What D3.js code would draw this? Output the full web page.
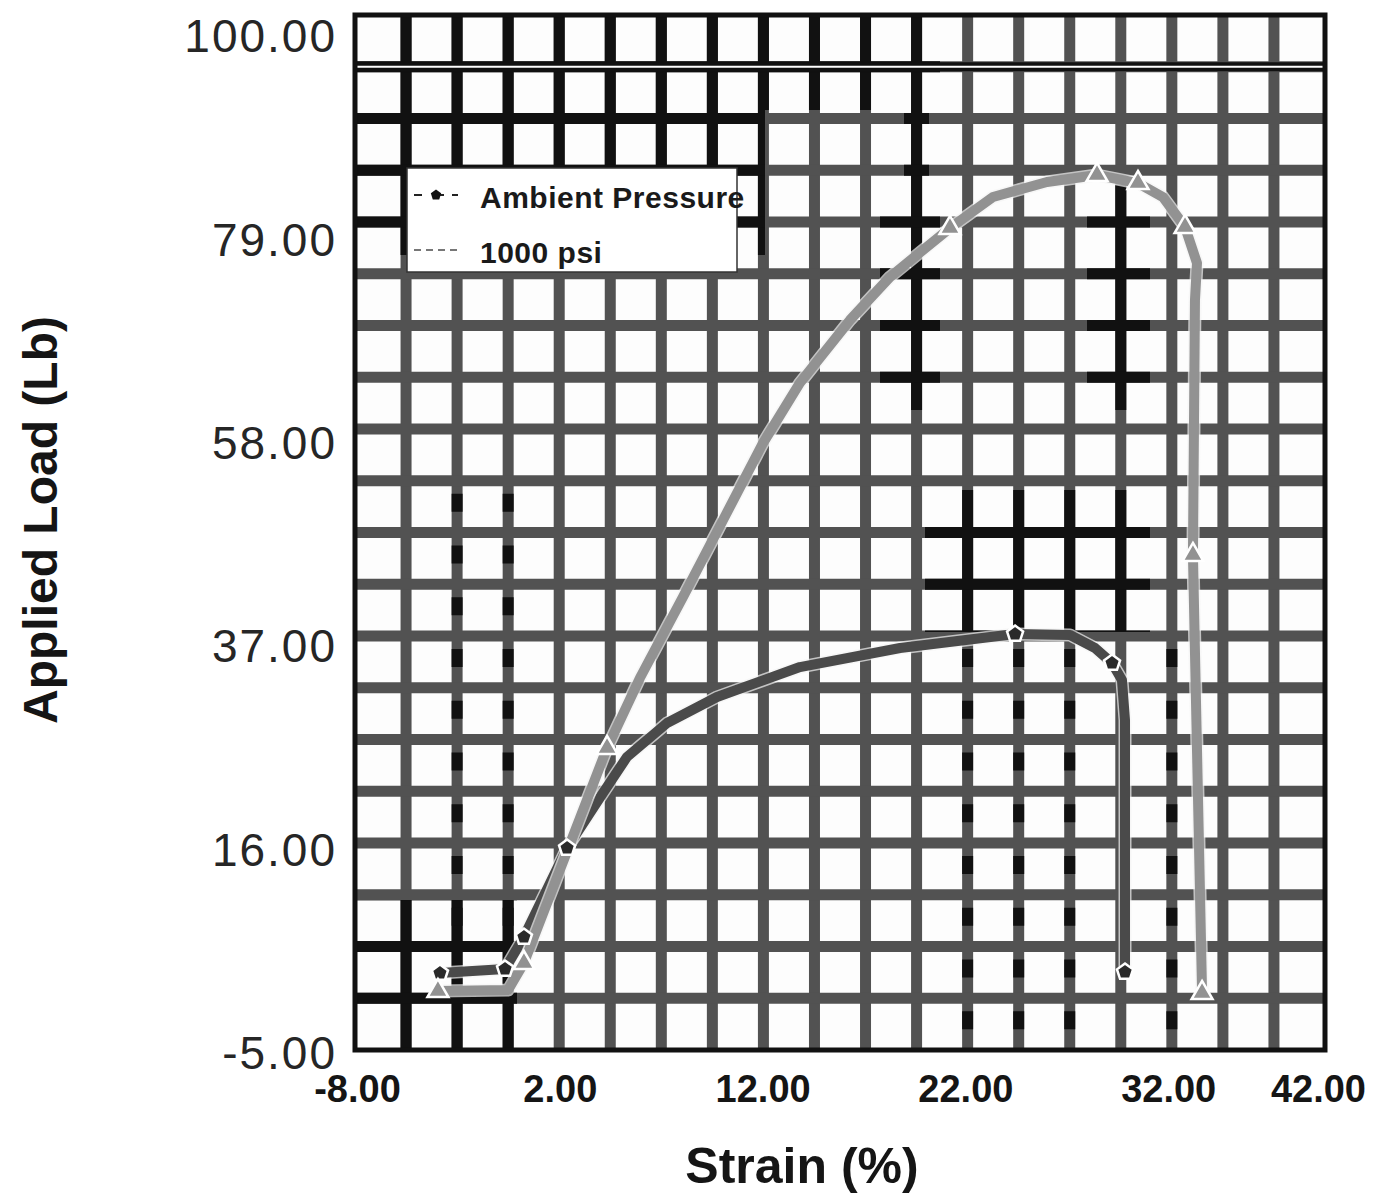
<!DOCTYPE html>
<html>
<head>
<meta charset="utf-8">
<script src="https://cdn.jsdelivr.net/npm/d3@7"></script>
<style>
  body { margin: 0; background: #fff; }
  svg text { font-family: "Liberation Sans", Arial, sans-serif; }
</style>
</head>
<body>
<div id="chart"></div>
<script>
// strain (%) / applied load (lb)
var ambientStrain = [-3.91, -0.70, 0.23, 2.36, 4.13, 5.31, 7.29, 9.75, 13.84, 18.78, 24.45, 27.16, 28.39, 29.23, 29.72, 29.87, 29.87];
var ambientLoad   = [2.74, 3.16, 6.46, 15.65, 21.33, 25.04, 28.55, 31.24, 34.33, 36.30, 37.74, 37.64, 36.30, 34.75, 32.99, 28.86, 2.85];
var ambientMarkStrain = [-3.91, -0.70, 0.23, 2.36, 24.45, 29.23, 29.87];
var ambientMarkLoad   = [2.74, 3.16, 6.46, 15.65, 37.74, 34.75, 2.85];

var psiStrain = [-4.01, -0.55, 0.23, 4.33, 5.95, 8.07, 10.05, 12.02, 13.84, 16.31, 18.28, 21.24, 23.36, 26.02, 28.49, 30.51, 31.74, 32.83, 33.42, 33.32, 33.22, 33.67];
var psiLoad   = [0.88, 0.99, 3.78, 25.97, 33.20, 41.56, 49.51, 57.46, 63.66, 70.16, 74.60, 79.66, 82.86, 84.41, 85.13, 84.30, 82.86, 79.76, 76.04, 72.22, 45.90, 0.68];
var psiMarkStrain = [-4.01, 0.23, 4.33, 21.24, 28.49, 30.51, 32.83, 33.22, 33.67];
var psiMarkLoad   = [0.88, 3.78, 25.97, 79.66, 85.13, 84.30, 79.76, 45.90, 0.68];

var xTicks = [-8, 2, 12, 22, 32, 42];
var yTicks = [100, 79, 58, 37, 16, -5];
var seriesNames = ["Ambient Pressure", "1000 psi"];

var width = 1376, height = 1193;
var box = { left: 355, right: 1325, top: 15, bottom: 1050 };

var svg = d3.select("#chart").append("svg")
    .attr("width", width)
    .attr("height", height);

var x = d3.scaleLinear().domain([-8, 42]).range([357, 1371]);
var y = d3.scaleLinear().domain([-5, 100]).range([1048, 31]);

var fmt = d3.formatLocale({ decimal: ".", thousands: ",", grouping: [3], currency: ["$", ""], minus: "-" }).format(".2f");

// plot background
svg.append("rect")
    .attr("x", box.left).attr("y", box.top)
    .attr("width", box.right - box.left).attr("height", box.bottom - box.top)
    .attr("fill", "#fdfdfd");

// heavy scanned grid: gray lines with black patches
var vLines = d3.range(1, 19).map(function(i) { return box.left + i * (box.right - box.left) / 19; });
var hLines = d3.range(1, 20).map(function(i) { return box.top + i * (box.bottom - box.top) / 20; });

var blackZones = [
    [352, 12, 413, 243],
    [765, 12, 175, 98],
    [904, 12, 25, 398],
    [880, 210, 60, 175],
    [1108, 185, 25, 225],
    [1087, 210, 63, 175],
    [925, 490, 225, 142],
    [352, 900, 165, 152]
];

var defs = svg.append("defs");
var clip = defs.append("clipPath").attr("id", "blackClip");
blackZones.forEach(function(z) {
    clip.append("rect").attr("x", z[0]).attr("y", z[1]).attr("width", z[2]).attr("height", z[3]);
});

function drawGrid(g, color) {
    g.selectAll("line.v").data(vLines).enter().append("line")
        .attr("class", "v")
        .attr("x1", function(d) { return d; }).attr("x2", function(d) { return d; })
        .attr("y1", box.top).attr("y2", box.bottom)
        .attr("stroke", color).attr("stroke-width", 11);
    g.selectAll("line.h").data(hLines).enter().append("line")
        .attr("class", "h")
        .attr("y1", function(d) { return d; }).attr("y2", function(d) { return d; })
        .attr("x1", box.left).attr("x2", box.right)
        .attr("stroke", color).attr("stroke-width", 11);
}

var grid = svg.append("g");
drawGrid(grid.append("g"), "#525252");
drawGrid(grid.append("g").attr("clip-path", "url(#blackClip)"), "#111");

// black dash bits along some verticals
var dashCols = [
    { idx: [1, 2], from: 480, to: 900 },
    { idx: [11, 12, 13, 15], from: 636, to: 1050 }
];
dashCols.forEach(function(c) {
    c.idx.forEach(function(i) {
        var xv = vLines[i];
        hLines.filter(function(h) { return h >= c.from && h < c.to; }).forEach(function(h) {
            grid.append("rect")
                .attr("x", xv - 5.5).attr("y", h + 13)
                .attr("width", 11).attr("height", 18)
                .attr("fill", "#111");
        });
    });
});

// the doubled rule near the top
grid.append("line")
    .attr("x1", box.left).attr("x2", box.right)
    .attr("y1", hLines[0]).attr("y2", hLines[0])
    .attr("stroke", "#111").attr("stroke-width", 9);
grid.append("line")
    .attr("x1", box.left).attr("x2", box.right)
    .attr("y1", hLines[0]).attr("y2", hLines[0])
    .attr("stroke", "#fff").attr("stroke-width", 2);

// frame
svg.append("rect")
    .attr("x", box.left).attr("y", box.top)
    .attr("width", box.right - box.left).attr("height", box.bottom - box.top)
    .attr("fill", "none").attr("stroke", "#111").attr("stroke-width", 5);

// curves
var line = d3.line()
    .x(function(d) { return x(d[0]); })
    .y(function(d) { return y(d[1]); });

var ambient = ambientStrain.map(function(s, i) { return [s, ambientLoad[i]]; });
var psi = psiStrain.map(function(s, i) { return [s, psiLoad[i]]; });

function drawCurve(data, color, w) {
    svg.append("path").datum(data)
        .attr("d", line)
        .attr("fill", "none")
        .attr("stroke", "#f4f4f4").attr("stroke-opacity", 0.7)
        .attr("stroke-width", w + 3)
        .attr("stroke-linejoin", "round").attr("stroke-linecap", "round");
    svg.append("path").datum(data)
        .attr("d", line)
        .attr("fill", "none")
        .attr("stroke", color)
        .attr("stroke-width", w)
        .attr("stroke-linejoin", "round").attr("stroke-linecap", "round");
}
drawCurve(ambient, "#4a4a4a", 10);
drawCurve(psi, "#929292", 10);

// markers
var pentagon = {
    draw: function(ctx, size) {
        var r = Math.sqrt(size / 2.3776);
        for (var i = 0; i < 5; i++) {
            var a = -Math.PI / 2 + i * 2 * Math.PI / 5;
            if (i === 0) ctx.moveTo(r * Math.cos(a), r * Math.sin(a));
            else ctx.lineTo(r * Math.cos(a), r * Math.sin(a));
        }
        ctx.closePath();
    }
};

svg.selectAll("path.amb")
    .data(ambientMarkStrain.map(function(s, i) { return [s, ambientMarkLoad[i]]; }))
    .enter().append("path")
    .attr("class", "amb")
    .attr("transform", function(d) { return "translate(" + x(d[0]) + "," + y(d[1]) + ")"; })
    .attr("d", d3.symbol().type(pentagon).size(170))
    .attr("fill", "#2a2a2a")
    .attr("stroke", "#fff").attr("stroke-width", 2.5);

svg.selectAll("path.psi")
    .data(psiMarkStrain.map(function(s, i) { return [s, psiMarkLoad[i]]; }))
    .enter().append("path")
    .attr("class", "psi")
    .attr("transform", function(d) { return "translate(" + x(d[0]) + "," + y(d[1]) + ")"; })
    .attr("d", d3.symbol().type(d3.symbolTriangle).size(190))
    .attr("fill", "#929292")
    .attr("stroke", "#fff").attr("stroke-width", 2.5);

// axes
var xAxis = svg.append("g")
    .attr("transform", "translate(0,1072)")
    .call(d3.axisBottom(x).tickValues(xTicks).tickFormat(fmt).tickSize(0));
xAxis.select(".domain").remove();
xAxis.selectAll("text")
    .attr("dy", "0.71em")
    .style("font-family", "'Liberation Sans', Arial, sans-serif")
    .style("font-size", "38px")
    .style("font-weight", "bold")
    .attr("fill", "#151515")
    .each(function() {
        // keep the last label inside the page
        var bb = this.getBBox();
        var tick = d3.select(this.parentNode);
        var tx = +tick.attr("transform").match(/translate\(([-\d.]+)/)[1];
        var over = tx + bb.width / 2 - (width - 10);
        if (over > 0) d3.select(this).attr("x", -over);
    });

var yAxis = svg.append("g")
    .attr("transform", "translate(337,0)")
    .call(d3.axisLeft(y).tickValues(yTicks).tickFormat(fmt).tickSize(0).tickPadding(0));
yAxis.select(".domain").remove();
yAxis.selectAll("text")
    .attr("dy", "0.45em")
    .style("font-family", "'Liberation Sans', Arial, sans-serif")
    .style("font-size", "46px")
    .style("letter-spacing", "2px")
    .attr("fill", "#262626");

svg.append("text")
    .attr("x", 802).attr("y", 1183)
    .attr("text-anchor", "middle")
    .style("font-size", "50px").style("font-weight", "bold")
    .attr("fill", "#151515")
    .text("Strain (%)");

svg.append("text")
    .attr("transform", "translate(57,520) rotate(-90)")
    .attr("text-anchor", "middle")
    .style("font-size", "48px").style("font-weight", "bold")
    .attr("fill", "#151515")
    .text("Applied Load (Lb)");

// legend
var legend = svg.append("g");
legend.append("rect")
    .attr("x", 407).attr("y", 168)
    .attr("width", 330).attr("height", 104)
    .attr("fill", "#fff")
    .attr("stroke", "#333").attr("stroke-width", 1.5);

var legendRows = [
    { name: seriesNames[0], y: 195, color: "#222", mark: pentagon },
    { name: seriesNames[1], y: 250, color: "#777", mark: null }
];
legendRows.forEach(function(r) {
    legend.append("line")
        .attr("x1", 414).attr("x2", 458)
        .attr("y1", r.y).attr("y2", r.y)
        .attr("stroke", r.color).attr("stroke-width", 2)
        .attr("stroke-dasharray", r.mark ? "8,14,8" : "7,5");
    if (r.mark) {
        legend.append("path")
            .attr("transform", "translate(436," + r.y + ")")
            .attr("d", d3.symbol().type(r.mark).size(70))
            .attr("fill", "#111");
    }
    legend.append("text")
        .attr("x", 480).attr("y", r.y + 13)
        .style("font-size", "30px").style("font-weight", "bold")
        .style("letter-spacing", "0.5px")
        .attr("fill", "#1a1a1a")
        .text(r.name);
});
</script>
</body>
</html>
